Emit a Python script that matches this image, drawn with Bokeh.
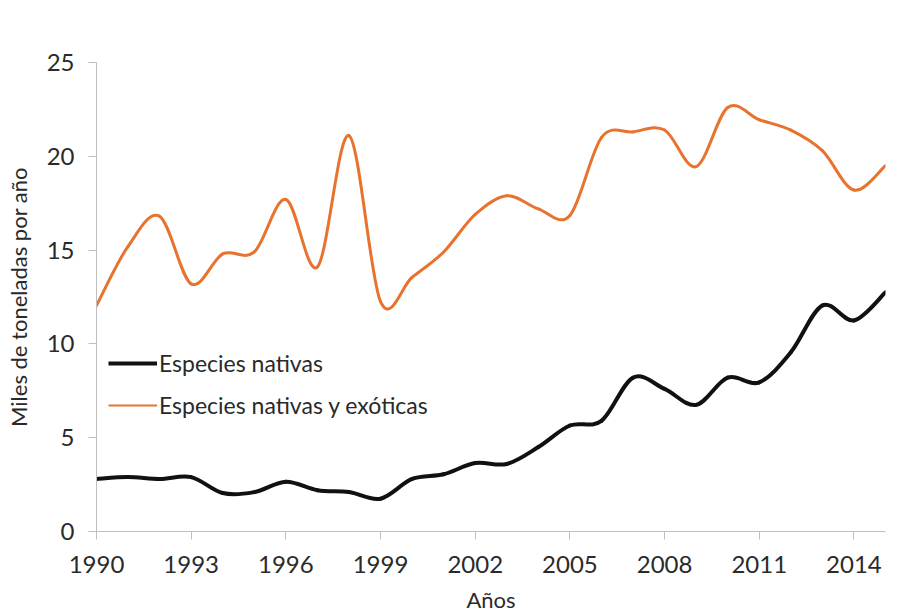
from bokeh.plotting import figure
from bokeh.models import Range1d, FixedTicker, Legend, LegendItem, ColumnDataSource
from bokeh.embed import file_html
from bokeh.resources import INLINE

years = list(range(1990, 2016))
nativas = [2.8, 2.9, 2.8, 2.9, 2.05, 2.1, 2.65, 2.2, 2.1, 1.75, 2.8, 3.05, 3.65,
           3.6, 4.5, 5.65, 5.9, 8.2, 7.6, 6.75, 8.2, 7.95, 9.55, 12.05, 11.25, 12.75]
exoticas = [12.05, 15.2, 16.8, 13.2, 14.8, 14.9, 17.7, 14.1, 21.1, 12.25, 13.55, 14.9,
            16.9, 17.9, 17.2, 16.85, 21.0, 21.3, 21.4, 19.45, 22.6, 21.95, 21.4, 20.3,
            18.2, 19.5]
x_ticks = [1990, 1993, 1996, 1999, 2002, 2005, 2008, 2011, 2014]
y_ticks = [0, 5, 10, 15, 20, 25]
series_names = ["Especies nativas", "Especies nativas y exóticas"]

FONT = "Lato"
TEXT = "#2a2a2a"
AXIS = "#bfbfbf"
ORANGE = "#E8732F"
BLACK = "#111111"


def smooth_segments(xs, ys, k=1.0 / 6.0):
    """Bezier segments (Excel-like smoothed line) built from the data points."""
    n = len(xs)
    d = dict(x0=[], y0=[], x1=[], y1=[], cx0=[], cy0=[], cx1=[], cy1=[])
    for i in range(n - 1):
        im1 = max(i - 1, 0)
        ip2 = min(i + 2, n - 1)
        d["x0"].append(xs[i]); d["y0"].append(ys[i])
        d["x1"].append(xs[i + 1]); d["y1"].append(ys[i + 1])
        d["cx0"].append(xs[i] + (xs[i + 1] - xs[im1]) * k)
        d["cy0"].append(ys[i] + (ys[i + 1] - ys[im1]) * k)
        d["cx1"].append(xs[i + 1] - (xs[ip2] - xs[i]) * k)
        d["cy1"].append(ys[i + 1] - (ys[ip2] - ys[i]) * k)
    return ColumnDataSource(d)


p = figure(width=905, height=615, output_backend="svg", toolbar_location=None,
           x_range=Range1d(1990, 2015), y_range=Range1d(0, 25),
           min_border_left=96, min_border_right=20, min_border_top=62,
           min_border_bottom=84)
p.outline_line_color = None
p.xgrid.visible = False
p.ygrid.visible = False

p.bezier(x0="x0", y0="y0", x1="x1", y1="y1", cx0="cx0", cy0="cy0", cx1="cx1", cy1="cy1",
         source=smooth_segments(years, exoticas), line_color=ORANGE, line_width=3,
         line_cap="round")
p.bezier(x0="x0", y0="y0", x1="x1", y1="y1", cx0="cx0", cy0="cy0", cx1="cx1", cy1="cy1",
         source=smooth_segments(years, nativas), line_color=BLACK, line_width=4,
         line_cap="round")

# legend-only renderers (a single undefined point draws nothing on the plot)
leg_nat = p.line(x=[years[0]], y=[float("nan")], line_color=BLACK, line_width=4)
leg_exo = p.line(x=[years[0]], y=[float("nan")], line_color=ORANGE, line_width=2)

for ax in (p.xaxis[0], p.yaxis[0]):
    ax.axis_line_color = AXIS
    ax.major_tick_line_color = AXIS
    ax.major_tick_out = 8
    ax.major_tick_in = 0
    ax.minor_tick_line_color = None
    ax.major_label_text_font = FONT
    ax.major_label_text_font_size = "24px"
    ax.major_label_text_color = TEXT
    ax.axis_label_text_font = FONT
    ax.axis_label_text_font_size = "22px"
    ax.axis_label_text_font_style = "normal"
    ax.axis_label_text_color = TEXT

p.xaxis[0].ticker = FixedTicker(ticks=x_ticks)
p.yaxis[0].ticker = FixedTicker(ticks=y_ticks)
p.xaxis[0].major_label_standoff = 16
p.yaxis[0].major_label_standoff = 14
p.xaxis[0].axis_label = "Años"
p.yaxis[0].axis_label = "Miles de toneladas por año"
p.xaxis[0].axis_label_standoff = 10
p.yaxis[0].axis_label_standoff = 12

legend = Legend(items=[LegendItem(label=series_names[0], renderers=[leg_nat]),
                       LegendItem(label=series_names[1], renderers=[leg_exo])],
                location=(12, 111), padding=0, margin=0, spacing=12,
                glyph_width=49, glyph_height=30, label_height=30, label_standoff=2,
                border_line_alpha=0, background_fill_alpha=0,
                label_text_font=FONT, label_text_font_size="23px",
                label_text_color=TEXT)
p.add_layout(legend)

open("out.html", "w").write(file_html(p, INLINE))
